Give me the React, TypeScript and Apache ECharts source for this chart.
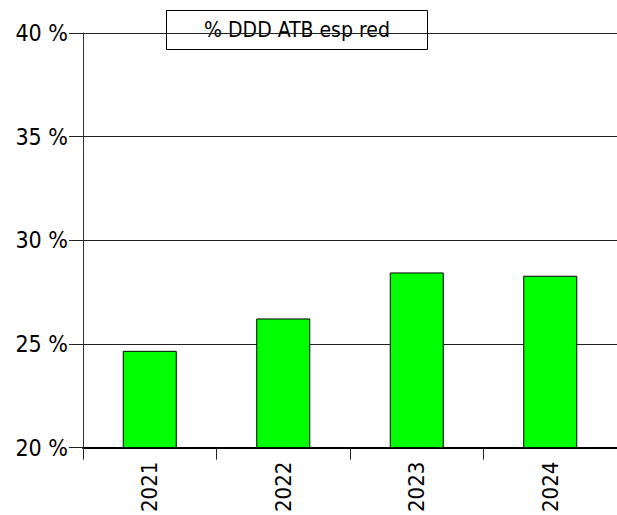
import React, { useEffect, useRef } from "react";
import * as echarts from "echarts";

const years: string[] = ["2021", "2022", "2023", "2024"];
const values: number[] = [24.67, 26.23, 28.45, 28.29];
const titleText = "% DDD ATB esp red";
const yMin = 20;
const yMax = 40;
const yStep = 5;

const FONT = "'DejaVu Sans Condensed', 'DejaVu Sans', sans-serif";

export default function App() {
  const ref = useRef<HTMLDivElement>(null);
  useEffect(() => {
    if (!ref.current) return;
    const chart = echarts.init(ref.current, null, { renderer: "svg" });
    chart.setOption({
      animation: false,
      backgroundColor: "#ffffff",
      textStyle: { fontFamily: FONT },
      grid: { left: 83, right: -2, top: 33, bottom: 64, containLabel: false },
      xAxis: {
        type: "category",
        data: years,
        boundaryGap: true,
        axisLine: { show: true, lineStyle: { color: "#000000", width: 2 } },
        axisTick: { show: true, alignWithLabel: false, length: 12, lineStyle: { color: "#222222", width: 1 } },
        axisLabel: { rotate: 90, fontSize: 22, color: "#000000", margin: 14, fontFamily: FONT },
        splitLine: { show: false },
      },
      yAxis: {
        type: "value",
        min: yMin,
        max: yMax,
        interval: yStep,
        axisLine: { show: true, lineStyle: { color: "#333333", width: 1 } },
        axisTick: { show: true, length: 14, lineStyle: { color: "#222222", width: 1 } },
        axisLabel: { formatter: "{value} %", fontSize: 23, color: "#000000", margin: 15, fontFamily: FONT },
        splitLine: { show: true, lineStyle: { color: "#222222", width: 1 } },
      },
      series: [
        {
          type: "bar",
          data: values,
          barWidth: 54,
          itemStyle: { color: "#00ff00", borderColor: "#000000", borderWidth: 1 },
          z: 3,
        },
      ],
      graphic: [
        {
          type: "group",
          z: 100,
          children: [
            {
              type: "rect",
              shape: { x: 166.5, y: 10.5, width: 261, height: 39 },
              style: { fill: "#ffffff", stroke: "#000000", lineWidth: 1 },
            },
            {
              type: "text",
              x: 297,
              y: 30,
              style: {
                text: titleText,
                fontSize: 21,
                fontFamily: FONT,
                fill: "#000000",
                textAlign: "center",
                textVerticalAlign: "middle",
              },
            },
          ],
        },
      ],
    });
    return () => chart.dispose();
  }, []);
  return (
    <div
      ref={ref}
      style={{ position: "fixed", left: 0, top: 0, width: 617, height: 515 }}
    />
  );
}
